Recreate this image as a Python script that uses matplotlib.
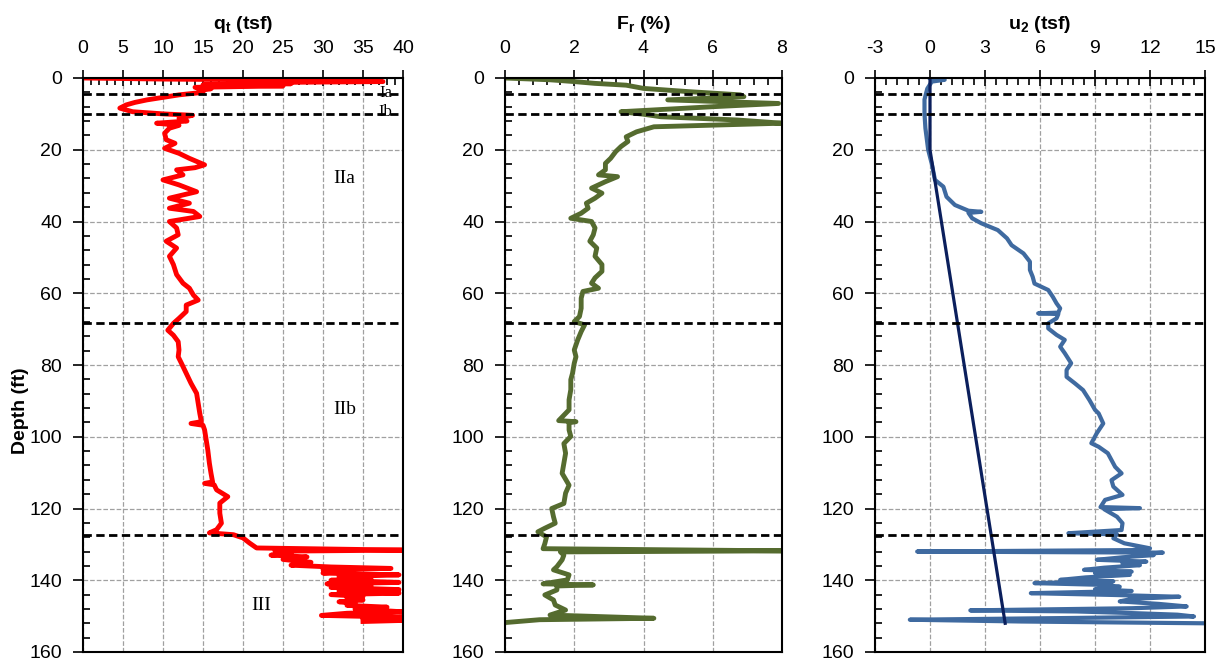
import matplotlib
matplotlib.use("Agg")
import matplotlib.pyplot as plt
from matplotlib.ticker import MultipleLocator, AutoMinorLocator

plt.rcParams['font.family'] = ['Liberation Sans', 'DejaVu Sans']
plt.rcParams['axes.unicode_minus'] = False

# cone tip resistance qt (tsf) vs depth (ft)
qt_depth = [0, 0.3, 0.6, 1.0, 1.3, 1.6, 1.9, 2.2, 2.6, 3.0, 3.5, 4.0, 4.7, 5.4, 6.1, 6.8, 7.5, 8.4, 9.4,
            10.0, 10.4, 11.2, 12.0, 12.6, 13.2, 14.0, 15.4, 17.2, 18.2, 19.6, 21.0, 22.4, 24.2, 25.0,
            25.6, 27.0, 28.4, 29.8, 31.7, 33.5, 34.9, 36.3, 37.2, 38.6, 40.0, 41.8, 43.7, 45.5, 47.4,
            49.7, 52.0, 54.8, 57.2, 58.6, 60.5, 61.9, 63.3, 65.1, 67.0, 68.4, 70.3, 71.7, 73.5, 75.8,
            77.7, 79.5, 82.3, 85.1, 87.9, 90.7, 93.5, 95.8, 96.3, 96.8, 98.1, 100.9, 103.7, 107.4,
            110.2, 112.6, 113.0, 113.4, 114.8, 116.7, 118.5, 121.3, 124.1, 125.9, 126.8, 127.3, 128.2,
            129.6, 131.0, 131.6, 131.9, 132.5, 133.0, 133.5, 134.2, 135.0, 135.8, 136.3, 136.7, 137.0,
            137.5, 138.0, 138.5, 139.0, 139.5, 140.0, 140.6, 141.0, 141.5, 142.0, 142.6, 143.0, 143.6,
            144.0, 144.5, 145.0, 145.5, 146.0, 146.5, 147.0, 147.5, 148.0, 148.8, 149.2, 149.8, 150.3,
            150.7, 151.2, 151.5]
qt_vals = [0, 10, 28, 37.5, 20, 26, 15, 25, 14, 16, 14.5, 15, 12, 10, 8, 6.5, 5.4, 4.6, 6.2,
           10, 13.7, 12, 13, 9.2, 12, 10.8, 10.2, 10.4, 11.5, 10.2, 12, 13.3, 15.2, 14,
           11.7, 12.5, 10, 12, 14.2, 10.8, 13.3, 10.8, 13.8, 14.6, 10.8, 11.7, 11.9, 10.4, 11.7,
           10.8, 11.3, 11.7, 12.5, 13.3, 13.8, 14.4, 12.9, 12.9, 12, 11.3, 10.6, 11.3, 11.9, 12.0,
           11.9, 12.3, 12.9, 13.5, 14.2, 14.4, 14.6, 14.8, 13.5, 15.0, 15.2, 15.4, 15.6, 15.8,
           16.0, 16.2, 15.2, 16.4, 16.7, 18.1, 17.1, 17.1, 17.3, 16.7, 15.8, 18.8, 20.0,
           20.8, 21.7, 40, 24, 26, 23.5, 28, 25, 28.5, 26, 31, 38.5, 30,
           33, 30, 39.5, 32, 36, 31, 39.5, 30.5, 36, 31, 39.5, 32, 39.5,
           31, 35, 33, 35, 32, 34, 33, 38, 34, 40, 33, 29.8, 40,
           35, 40, 35]

# friction ratio Fr (%)
fr_depth = [0, 0.5, 1.0, 1.5, 2.0, 2.9, 3.8, 4.7, 5.2, 6.1, 7.1, 8.0, 9.4, 10.1, 10.8, 11.7, 12.6, 13.6,
            15.0, 16.4, 17.7, 19.1, 20.5, 22.4, 23.8, 25.6, 27.0, 27.5, 28.9, 30.7, 32.1, 33.5, 34.9,
            36.3, 37.7, 39.1, 40.0, 41.8, 43.7, 45.5, 47.4, 49.7, 52.0, 53.9, 55.7, 57.2, 58.6, 59.5,
            61.4, 64.2, 66.5, 67.9, 68.8, 70.7, 73.0, 75.8, 77.7, 79.5, 82.3, 84.1, 86.9, 89.7, 92.5,
            95.5, 95.8, 96.1, 98.1, 99.9, 101.9, 104.6, 107.4, 110.2, 113.5, 115.7, 118.6, 120.0,
            122.3, 124.1, 125.5, 126.5, 127.9, 129.8, 131.2, 131.8, 132.1, 133.0, 134.3, 136.2, 137.1,
            138.5, 139.9, 141.0, 141.3, 141.6, 142.7, 144.1, 145.5, 146.9, 148.3, 149.7, 150.6, 151.0,
            151.8]
fr_vals = [0, 1.3, 2.0, 2.6, 3.5, 4.0, 5.3, 6.8, 6.9, 4.7, 7.9, 6.0, 3.35, 4.0, 4.5, 6.7, 8.0, 4.3,
           3.8, 3.5, 3.55, 3.35, 3.2, 3.05, 2.9, 2.9, 2.7, 3.25, 2.9, 2.5, 2.8, 2.6, 2.35,
           2.4, 2.2, 1.9, 2.5, 2.6, 2.55, 2.45, 2.65, 2.6, 2.8, 2.8, 2.6, 2.5, 2.7, 2.25,
           2.2, 2.2, 2.15, 2.0, 2.3, 2.2, 2.1, 2.0, 2.05, 2.0, 1.95, 1.9, 1.9, 1.85, 1.85,
           1.55, 2.05, 1.85, 1.85, 1.9, 1.7, 1.75, 1.7, 1.65, 1.85, 1.75, 1.7, 1.35,
           1.4, 1.45, 1.15, 0.95, 1.2, 1.15, 1.1, 8.0, 1.6, 1.7, 1.65, 1.5, 1.4,
           1.85, 1.8, 1.1, 2.55, 1.5, 1.5, 1.15, 1.4, 1.45, 1.75, 1.3, 4.3, 1.0,
           0]

# pore pressure u2 (tsf)
u2_depth = [0, 0.5, 1.0, 3, 6, 10, 14, 18, 20, 24, 28.4, 30.3, 33.1, 35.4, 37.0, 37.3, 37.6, 39.1,
            40.5, 42.4, 44.7, 46.6, 48.9, 51.2, 53.5, 55.4, 57.3, 59.1, 61.0, 62.8, 64.2, 65.4, 65.6,
            65.8, 67.0, 68.4, 69.8, 71.6, 73.0, 74.9, 76.7, 79.5, 81.4, 83.3, 85.1, 87.0, 89.8, 92.5,
            93.5, 96.3, 99.0, 101.8, 102.8, 104.6, 106.5, 108.4, 110.2, 112.1, 113.9, 116.2, 117.6,
            119.6, 119.9, 120.2, 122.3, 124.1, 126.0, 126.9, 127.2, 128.3, 129.7, 131.1, 131.6, 132.0,
            132.3, 132.7, 133.0, 133.6, 134.3, 134.8, 135.3, 135.8, 136.5, 137.1, 137.6, 138.0, 138.5,
            139.2, 139.9, 140.3, 140.8, 141.3, 141.8, 142.5, 143.0, 143.6, 144.1, 144.6, 145.2, 145.9,
            146.6, 147.3, 147.8, 148.4, 148.7, 149.2, 149.6, 150.1, 150.5, 151.0, 151.5, 152.0]
u2_vals = [0, 0.8, 0.1, -0.15, -0.3, -0.3, -0.25, -0.15, -0.1, 0.1, 0.27, 0.73, 0.9, 1.36, 2.1, 2.8, 2.1, 2.3,
           2.8, 3.7, 4.2, 4.45, 5.1, 5.45, 5.45, 5.6, 5.7, 6.45, 6.7, 6.9, 7.1, 7.0, 5.9,
           7.0, 6.9, 6.45, 6.45, 6.9, 7.35, 7.1, 7.35, 7.7, 7.45, 7.45, 7.9, 8.35, 8.7, 9.0,
           9.2, 9.45, 9.1, 8.8, 9.2, 9.7, 9.9, 10.1, 10.45, 9.9, 10.0, 10.5, 9.55,
           9.3, 11.45, 9.5, 10.2, 10.5, 10.45, 7.55, 10.2, 10.0, 10.6, 12.0, 11.0, -0.7,
           12.7, 11.5, 12.2, 10.5, 9.1, 11.8, 10.5, 11.45, 9.5, 8.4, 11.0, 9.0, 10.9,
           8.5, 7.1, 10.0, 5.7, 9.5, 10.35, 9.0, 11.0, 5.5, 10.0, 13.6, 11.0, 10.35,
           12.5, 14.0, 11.0, 2.2, 8.0, 11.3, 13.5, 14.4, 8.0, -1.1, 5.0, 15.0]

# hydrostatic pressure u0 (water table at 20 ft)
u0_depth = [0, 20, 152]
u0_vals = [0, 0, 4.1]

layer_depths = [4.5, 10.0, 68.4, 127.4]

fig = plt.figure(figsize=(12.25, 6.62), dpi=100)
ax1 = fig.add_axes([83/1225, 1-652/662, 320/1225, 574/662])
ax2 = fig.add_axes([505/1225, 1-652/662, 277/1225, 574/662])
ax3 = fig.add_axes([875/1225, 1-652/662, 330/1225, 574/662])


def style(ax, xlim, xstep, title):
    ax.set_xlim(xlim)
    ax.set_ylim(160, 0)
    ax.xaxis.set_major_locator(MultipleLocator(xstep))
    ax.xaxis.set_minor_locator(AutoMinorLocator(5))
    ax.yaxis.set_major_locator(MultipleLocator(20))
    ax.yaxis.set_minor_locator(AutoMinorLocator(5))
    ax.xaxis.tick_top()
    ax.xaxis.set_label_position('top')
    ax.tick_params(axis='x', which='major', direction='inout', length=12, width=1.2,
                   labelsize=14, pad=9)
    ax.tick_params(axis='x', which='minor', direction='in', length=5, width=1.2)
    ax.tick_params(axis='y', which='major', direction='out', length=7, width=1.2,
                   labelsize=14, pad=8)
    ax.tick_params(axis='y', which='minor', direction='in', length=5, width=1.2)
    ax.grid(True, which='major', color='#a0a0a0', linestyle='--', linewidth=0.9)
    for sp in ax.spines.values():
        sp.set_linewidth(1.5)
    ax.set_xlabel(title, fontsize=14, fontweight='bold', labelpad=8)
    for d in layer_depths:
        ax.axhline(d, color='black', linestyle=(0, (3, 1.6)), linewidth=2, zorder=5)


ax1.plot(qt_vals, qt_depth, color='red', linewidth=3.5, solid_joinstyle='round')
style(ax1, (0, 40), 5, r'q$_\mathregular{t}$ (tsf)')
ax1.set_ylabel('Depth (ft)', fontsize=14, fontweight='bold')
ax1.yaxis.set_label_coords(-0.17, 0.42)

serif = ['Liberation Serif', 'DejaVu Serif']
ax1.text(37.8, 4.3, 'Ia', family=serif, fontsize=12, ha='center', va='center', zorder=6)
ax1.text(37.8, 9.4, 'Ib', family=serif, fontsize=12, ha='center', va='center', zorder=6)
ax1.text(32.7, 28, 'IIa', family=serif, fontsize=14, ha='center', va='center')
ax1.text(32.7, 92.5, 'IIb', family=serif, fontsize=14, ha='center', va='center')
ax1.text(22.3, 147, 'III', family=serif, fontsize=14, ha='center', va='center')

ax2.plot(fr_vals, fr_depth, color='#556B2F', linewidth=3.5, solid_joinstyle='round')
style(ax2, (0, 8), 2, r'F$_\mathregular{r}$ (%)')

ax3.plot(u2_vals, u2_depth, color='#3F6AA0', linewidth=3, solid_joinstyle='round')
ax3.plot(u0_vals, u0_depth, color='#0B1F5C', linewidth=2.3)
style(ax3, (-3, 15), 3, r'u$_\mathregular{2}$ (tsf)')

fig.savefig('out.png', dpi=100)
